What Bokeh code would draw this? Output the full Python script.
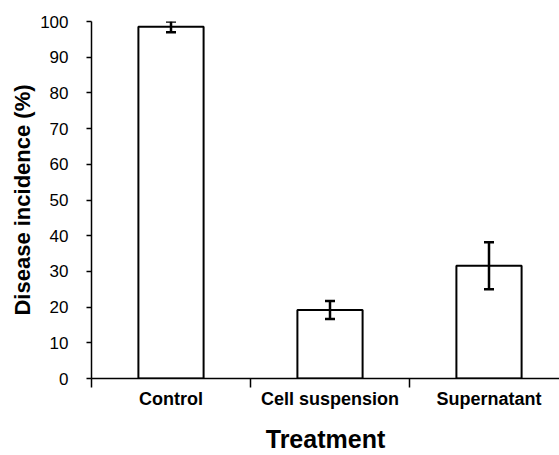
from bokeh.plotting import figure
from bokeh.models import Range1d, FixedTicker, ColumnDataSource, Whisker, TeeHead
from bokeh.embed import file_html
from bokeh.resources import INLINE

# ---- data ----
categories = ["Control", "Cell suspension", "Supernatant"]
incidence = [98.5, 19.2, 31.6]
errors = [1.5, 2.5, 6.6]
y_ticks = [0, 10, 20, 30, 40, 50, 60, 70, 80, 90, 100]
x_title = "Treatment"
y_title = "Disease incidence (%)"

xs = [i + 0.5 for i in range(len(categories))]
src = ColumnDataSource(dict(
    x=xs, top=incidence,
    upper=[v + e for v, e in zip(incidence, errors)],
    lower=[v - e for v, e in zip(incidence, errors)],
))

FONT = "Liberation Sans"
X_END = (559 - 91) / 159

p = figure(width=559, height=455, output_backend="svg", toolbar_location=None,
           x_range=Range1d(0, X_END), y_range=Range1d(0, 100),
           min_border_left=91, min_border_right=0, min_border_top=21,
           min_border_bottom=76)
p.outline_line_color = None
p.xgrid.visible = False
p.ygrid.visible = False
p.background_fill_color = "white"
p.border_fill_color = "white"

p.vbar(x="x", top="top", width=0.41, source=src, fill_color="white",
       line_color="black", line_width=2)

w = Whisker(source=src, base="x", upper="upper", lower="lower",
            line_color="black", line_width=2.5, level="annotation",
            upper_head=TeeHead(size=10, line_width=2.5, line_color="black"),
            lower_head=TeeHead(size=10, line_width=2.5, line_color="black"))
p.add_layout(w)

# x axis
xa = p.xaxis[0]
xa.ticker = FixedTicker(ticks=xs, minor_ticks=list(range(len(categories) + 1)))
xa.major_label_overrides = {x: c for x, c in zip(xs, categories)}
xa.major_tick_out = 0
xa.major_tick_in = 0
xa.minor_tick_out = 9
xa.minor_tick_in = 0
xa.minor_tick_line_color = "black"
xa.minor_tick_line_width = 1.5
xa.axis_line_color = "black"
xa.axis_line_width = 1.5
xa.major_label_text_font = FONT
xa.major_label_text_font_style = "bold"
xa.major_label_text_font_size = "18px"
xa.major_label_text_color = "black"
xa.major_label_standoff = 1
xa.axis_label = x_title
xa.axis_label_text_font = FONT
xa.axis_label_text_font_style = "bold"
xa.axis_label_text_font_size = "25px"
xa.axis_label_text_color = "black"
xa.axis_label_standoff = 13

# y axis
ya = p.yaxis[0]
ya.ticker = FixedTicker(ticks=y_ticks, minor_ticks=[])
ya.major_tick_out = 5
ya.major_tick_in = 0
ya.major_tick_line_color = "black"
ya.major_tick_line_width = 1.5
ya.axis_line_color = "black"
ya.axis_line_width = 1.5
ya.major_label_text_font = FONT
ya.major_label_text_font_size = "17px"
ya.major_label_text_color = "black"
ya.major_label_standoff = 18
ya.axis_label = y_title
ya.axis_label_text_font = FONT
ya.axis_label_text_font_style = "bold"
ya.axis_label_text_font_size = "22px"
ya.axis_label_text_color = "black"
ya.axis_label_standoff = 2

open("out.html", "w").write(file_html(p, INLINE))
